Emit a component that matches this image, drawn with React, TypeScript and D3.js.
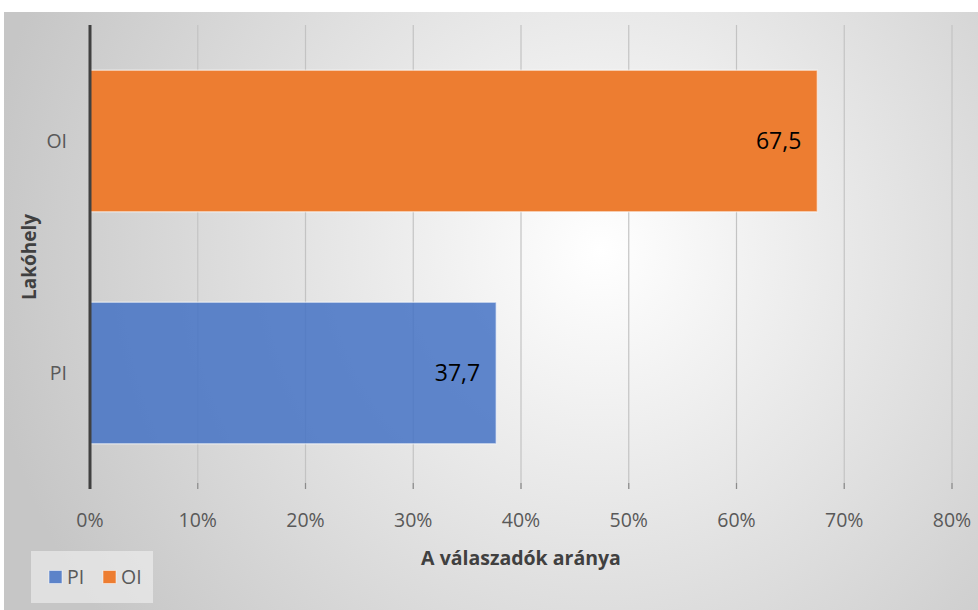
import React from "react";
import * as d3 from "d3";

const categories = ["PI", "OI"];
const values = [37.7, 67.5];
const labels = ["37,7", "67,5"];
const colors = ["#4472C4", "#ED7D31"];
const opacities = [0.85, 1];
const xTicks = [0, 10, 20, 30, 40, 50, 60, 70, 80];

const W = 978;
const H = 610;
const FONT = "'Open Sans', sans-serif";

export default function App() {
  const left = 90, right = 952, top = 25, bottom = 489;
  const x = d3.scaleLinear().domain([0, 80]).range([left, right]);
  const y = d3.scaleBand().domain(["OI", "PI"]).range([top, bottom]).paddingInner(0.39).paddingOuter(0.195);
  const fmt = (d: number) => `${d}%`;

  return (
    <svg width={W} height={H} style={{ position: "absolute", left: 0, top: 0, background: "#fff" }}>
      <defs>
        <radialGradient id="bg" cx="600" cy="250" r="620" gradientUnits="userSpaceOnUse">
          <stop offset="0" stopColor="#ffffff" />
          <stop offset="1" stopColor="#c6c6c6" />
        </radialGradient>
      </defs>
      <rect x={4} y={12} width={W - 4} height={H - 12} fill="url(#bg)" />
      {xTicks.map((t) => (
        <g key={t}>
          {t > 0 && <line x1={x(t)} x2={x(t)} y1={top} y2={bottom} stroke="#c3c3c3" strokeWidth={1.2} />}
          <line x1={x(t)} x2={x(t)} y1={bottom - 6} y2={bottom} stroke="#8c8c8c" strokeWidth={1.2} />
          <text x={x(t)} y={527} textAnchor="middle" fontFamily={FONT} fontSize={19.5} fill="#595959">
            {fmt(t)}
          </text>
        </g>
      ))}
      {categories.map((c, i) => {
        const yy = y(c)!;
        const bw = y.bandwidth();
        return (
          <g key={c}>
            <rect x={x(0)} y={yy} width={x(values[i]) - x(0)} height={bw} fill={colors[i]} fillOpacity={opacities[i]}
              stroke="#ffffff" strokeOpacity={0.5} strokeWidth={1.5} />
            <text x={x(values[i]) - 16} y={yy + bw / 2 + 8} textAnchor="end" fontFamily={FONT} fontSize={23} fill="#000">
              {labels[i]}
            </text>
            <text x={67} y={yy + bw / 2 + 7} textAnchor="end" fontFamily={FONT} fontSize={19.5} fill="#595959">
              {c}
            </text>
          </g>
        );
      })}
      <line x1={x(0)} x2={x(0)} y1={top} y2={bottom} stroke="#404040" strokeWidth={3} />
      <text transform={`translate(36,${(top + bottom) / 2}) rotate(-90)`} textAnchor="middle"
        fontFamily={FONT} fontSize={19} fontWeight="bold" fill="#404040">Lakóhely</text>
      <text x={(left + right) / 2} y={565} textAnchor="middle" fontFamily={FONT} fontSize={19.5} fontWeight="bold" fill="#404040">
        A válaszadók aránya
      </text>
      <rect x={31} y={551} width={122} height={52} fill="#f2f2f2" fillOpacity={0.6} />
      {categories.map((c, i) => (
        <g key={"lg" + c} transform={`translate(${49 + i * 54},577)`}>
          <rect x={0} y={-6.5} width={13} height={13} fill={colors[i]} fillOpacity={opacities[i]} stroke="#fff" strokeOpacity={0.5} />
          <text x={18} y={7} fontFamily={FONT} fontSize={19.5} fill="#595959">{c}</text>
        </g>
      ))}
    </svg>
  );
}
